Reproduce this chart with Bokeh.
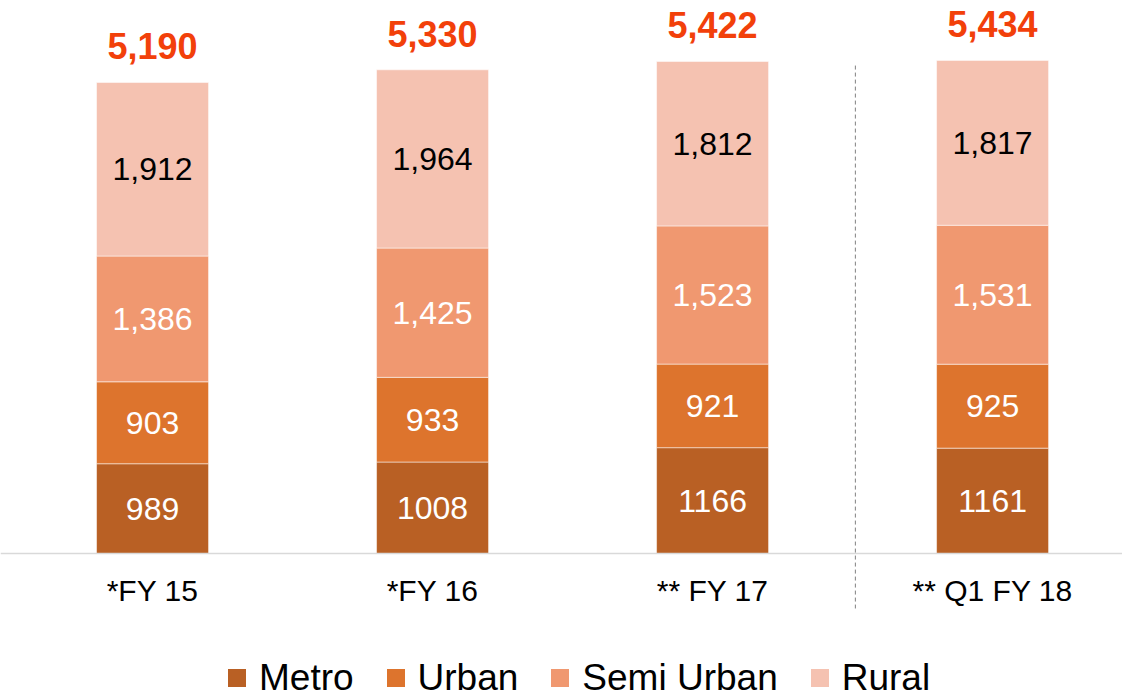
from bokeh.plotting import figure
from bokeh.models import (ColumnDataSource, FixedTicker, Range1d, Legend, LegendItem,
                          Arrow, LabelSet)
from bokeh.core.properties import value
from bokeh.embed import file_html
from bokeh.resources import INLINE

# ---- data ----
categories = ["*FY 15", "*FY 16", "** FY 17", "** Q1 FY 18"]
metro = [989, 1008, 1166, 1161]
urban = [903, 933, 921, 925]
semi_urban = [1386, 1425, 1523, 1531]
rural = [1912, 1964, 1812, 1817]
totals = [5190, 5330, 5422, 5434]
metro_labels = ["989", "1008", "1166", "1161"]
urban_labels = ["903", "933", "921", "925"]
semi_labels = ["1,386", "1,425", "1,523", "1,531"]
rural_labels = ["1,912", "1,964", "1,812", "1,817"]
total_labels = ["5,190", "5,330", "5,422", "5,434"]

series = ["Metro", "Urban", "Semi Urban", "Rural"]
colors = ["#B96024", "#DD742D", "#F09870", "#F5C2B1"]
label_colors = ["white", "white", "white", "black"]

FONT = "Liberation Sans"

x = list(range(len(categories)))
src = ColumnDataSource(dict(
    x=x, metro=metro, urban=urban, semi=semi_urban, rural=rural, total=totals,
    metro_lbl=metro_labels, urban_lbl=urban_labels, semi_lbl=semi_labels,
    rural_lbl=rural_labels, total_lbl=total_labels,
))

b0 = [0] * 4
t0 = metro
t1 = [a + b for a, b in zip(t0, urban)]
t2 = [a + b for a, b in zip(t1, semi_urban)]
t3 = [a + b for a, b in zip(t2, rural)]
src.data.update(dict(b0=b0, t0=t0, t1=t1, t2=t2, t3=t3,
                     m0=[(a + b) / 2 for a, b in zip(b0, t0)],
                     m1=[(a + b) / 2 for a, b in zip(t0, t1)],
                     m2=[(a + b) / 2 for a, b in zip(t1, t2)],
                     m3=[(a + b) / 2 for a, b in zip(t2, t3)],
                     ty=[t + 400 for t in totals]))

p = figure(width=1122, height=696, output_backend="svg", toolbar_location=None,
           x_range=Range1d(-0.543, 3.464), y_range=Range1d(-1576, 6094),
           min_border=0, min_border_left=0, min_border_right=0,
           min_border_top=0, min_border_bottom=0)
p.outline_line_color = None
p.grid.visible = False
p.yaxis.visible = False
p.background_fill_color = "white"
p.border_fill_color = "white"

bottoms = ["b0", "t0", "t1", "t2"]
tops = ["t0", "t1", "t2", "t3"]
mids = ["m0", "m1", "m2", "m3"]
lbls = ["metro_lbl", "urban_lbl", "semi_lbl", "rural_lbl"]
for i in range(4):
    p.vbar(x="x", bottom=bottoms[i], top=tops[i], width=0.4, source=src,
           fill_color=colors[i], line_color="white", line_width=1, line_alpha=0.5)
    p.add_layout(LabelSet(x="x", y=mids[i], text=lbls[i], source=src,
                          text_align="center", text_baseline="middle",
                          text_font=value(FONT), text_font_size="32px",
                          text_color=label_colors[i]))

p.add_layout(LabelSet(x="x", y="ty", text="total_lbl", source=src,
                      text_align="center", text_baseline="middle",
                      text_font=value(FONT), text_font_size="36px", text_font_style="bold",
                      text_color="#F2400A"))

# separator
p.add_layout(Arrow(x_start=2.51, y_start=5377, x_end=2.51, y_end=-606, end=None,
                   line_color="#808080", line_width=1, line_dash="4 3"))

# x axis drawn at y = 0
p.xaxis.fixed_location = 0
p.xaxis.ticker = FixedTicker(ticks=x)
p.xaxis.major_label_overrides = {i: c for i, c in zip(x, categories)}
p.xaxis.major_tick_line_color = None
p.xaxis.minor_tick_line_color = None
p.xaxis.axis_line_color = "#D9D9D9"
p.xaxis.axis_line_width = 1.5
p.xaxis.major_label_text_font = FONT
p.xaxis.major_label_text_font_size = "30px"
p.xaxis.major_label_text_color = "black"
p.xaxis.major_label_standoff = 15

# legend
items = []
for name, c in zip(series, colors):
    r = p.scatter(x="x", y="b0", source=src, size=0, marker="square",
                  fill_color=c, line_color=None)
    items.append(LegendItem(label=name, renderers=[r]))
legend = Legend(items=items, orientation="horizontal", location=(214, -4),
                label_text_font=FONT, label_text_font_size="37px", label_text_color="black",
                glyph_width=45, glyph_height=45, label_standoff=0, spacing=19,
                padding=0, margin=0, border_line_color=None, background_fill_alpha=0)
p.add_layout(legend)

open("out.html", "w").write(file_html(p, INLINE))
